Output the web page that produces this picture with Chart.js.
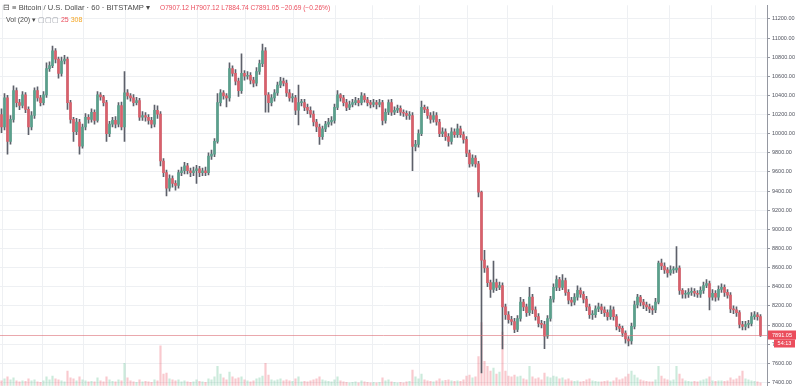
<!DOCTYPE html>
<html><head><meta charset="utf-8">
<script src="https://cdn.jsdelivr.net/npm/chart.js@4/dist/chart.umd.min.js"></script>
<style>
html,body{margin:0;padding:0;background:#fff;}
#wrap{position:relative;width:800px;height:391px;overflow:hidden;}
canvas{position:absolute;left:0;top:0;}
.hdr{position:absolute;font-family:"Liberation Sans",Arial,sans-serif;font-size:7px;white-space:nowrap;line-height:1;}
</style></head><body>
<div id="wrap"><canvas id="c" width="800" height="391"></canvas>
<div class="hdr" style="left:3px;top:4px;color:#4a4a4a;font-size:7.6px">⊟ ≡ Bitcoin / U.S. Dollar · 60 · BITSTAMP ▾</div>
<div class="hdr" style="left:160px;top:5px;color:#eb4d5c;font-size:6.6px">O7907.12 H7907.12 L7884.74 C7891.05 −20.69 (−0.26%)</div>
<div class="hdr" style="left:6px;top:16px;color:#4a4a4a">Vol (20) ▾ <span style="color:#9598a1">▢▢▢</span> <span style="color:#eb4d5c">25</span> <span style="color:#f5a623">308</span></div>
</div>
<script>
// 60-minute candles (compressed), BITSTAMP BTC/USD
const opens = [
10200,10070,10375,9920,10150,10450,10325,10295,10405,10255,
10070,10190,10450,10375,10325,10405,10680,10712,10865,10780,
10630,10760,10780,10325,10150,10020,10122,9870,10070,10172,
10150,10224,10140,10405,10385,10325,10000,10100,10140,10100,
10295,10070,10427,10395,10375,10325,10345,10172,10190,10172,
10140,10100,10245,10205,9715,9593,9430,9532,9481,9460,
9593,9613,9664,9613,9593,9613,9634,9593,9613,9593,
9766,9786,9919,10325,10427,10395,10375,10680,10630,10550,
10450,10630,10600,10610,10560,10529,10650,10732,10865,10405,
10325,10375,10427,10508,10550,10529,10427,10375,10375,10245,
10325,10325,10275,10245,10205,10122,10070,9970,10050,10100,
10122,10140,10275,10405,10375,10325,10275,10305,10325,10345,
10325,10395,10355,10325,10305,10325,10305,10325,10140,10224,
10325,10224,10245,10265,10224,10214,10190,10190,9867,9888,
10000,10275,10255,10190,10150,10190,10122,10000,10020,9970,
9919,10020,9990,10050,9990,9940,9797,9685,9745,9685,
9390,8678,8596,8444,8373,8444,8393,8413,8190,8108,
8057,8037,7955,8068,8240,8190,8129,8291,8159,8088,
8017,8006,7885,8068,8271,8393,8474,8393,8464,8342,
8261,8240,8291,8362,8322,8271,8190,8108,8108,8169,
8190,8159,8129,8088,8159,8088,7986,7966,7915,7854,
7834,7986,8210,8291,8240,8210,8190,8169,8159,8240,
8647,8617,8576,8545,8576,8576,8596,8362,8322,8322,
8342,8352,8332,8322,8362,8413,8434,8291,8332,8291,
8373,8393,8342,8312,8169,8159,8129,8006,7986,8006,
8017,8088,8108,8088
];
const highs = [
10260,10420,10400,10190,10500,10480,10360,10440,10430,10280,
10230,10480,10490,10400,10440,10740,10750,10915,10890,10800,
10800,10820,10800,10350,10170,10160,10150,10100,10210,10200,
10260,10250,10440,10430,10400,10350,10130,10170,10180,10325,
10330,10650,10460,10420,10410,10380,10370,10230,10220,10200,
10170,10300,10290,10230,9740,9620,9570,9560,9510,9620,
9650,9700,9690,9640,9650,9670,9660,9640,9650,9800,
9830,9950,10420,10460,10450,10420,10740,10710,10670,10580,
10834,10660,10650,10640,10590,10690,10770,10936,10900,10430,
10410,10460,10540,10590,10580,10560,10460,10420,10400,10508,
10360,10360,10310,10280,10240,10150,10100,10080,10130,10160,
10180,10310,10450,10420,10400,10360,10340,10360,10380,10370,
10430,10420,10380,10350,10360,10350,10360,10350,10260,10355,
10360,10280,10300,10290,10250,10240,10230,10220,9930,10040,
10340,10300,10280,10220,10230,10220,10150,10060,10050,10000,
10060,10050,10100,10080,10020,9970,9830,9780,9770,9710,
9400,8780,8620,8470,8668,8480,8450,8440,8220,8140,
8090,8070,8100,8290,8270,8220,8393,8320,8190,8120,
8050,8040,8100,8300,8430,8515,8500,8527,8490,8370,
8290,8330,8410,8390,8350,8300,8220,8150,8200,8230,
8220,8190,8160,8200,8190,8110,8010,7990,7940,7880,
8020,8250,8322,8310,8270,8240,8220,8200,8280,8668,
8690,8650,8600,8620,8610,8820,8620,8380,8360,8380,
8390,8380,8360,8400,8450,8474,8460,8370,8360,8410,
8430,8420,8370,8340,8200,8190,8150,8040,8040,8050,
8130,8140,8130,8110
];
const lows = [
10010,10040,9786,9890,10120,10280,10250,10270,10220,9990,
10040,10160,10340,10290,10300,10380,10650,10690,10740,10580,
10600,10730,10255,10110,9919,9990,9786,9850,10040,10110,
10120,10100,10120,10350,10290,9919,9970,10070,10060,10070,
10040,9919,10360,10340,10290,10300,10140,10140,10130,10100,
10060,10070,10160,9664,9550,9350,9400,9440,9410,9430,
9560,9580,9580,9550,9560,9480,9550,9560,9560,9570,
9730,9760,9900,10290,10360,10280,10340,10600,10510,10390,
10420,10560,10570,10520,10490,10500,10620,10700,10224,10224,
10290,10340,10400,10480,10500,10390,10340,10330,10200,10091,
10290,10240,10210,10170,10080,10020,9888,9940,10020,10070,
10090,10110,10250,10340,10290,10240,10250,10280,10300,10290,
10300,10330,10290,10270,10280,10260,10280,10091,10110,10200,
10190,10200,10220,10190,10180,10150,10150,9613,9820,9860,
9980,10220,10160,10110,10120,10090,9970,9970,9930,9870,
9890,9960,9960,9960,9900,9760,9650,9660,9650,9340,
7500,8550,8400,8290,8340,8360,8370,7750,8060,8020,
8000,7920,7930,8040,8150,8090,8100,8120,8050,7980,
7970,7752,7860,8040,8240,8360,8360,8370,8310,8220,
8200,8210,8260,8290,8230,8150,8070,8060,8080,8140,
8120,8090,8050,8060,8050,7950,7930,7880,7810,7783,
7800,7960,8180,8200,8170,8150,8130,8110,8130,8220,
8580,8540,8500,8520,8540,8550,8320,8280,8280,8290,
8310,8300,8290,8290,8330,8390,8159,8260,8250,8260,
8340,8300,8280,8130,8120,8090,7970,7950,7950,7970,
7990,8060,8050,7880
];
const closes = [
10070,10375,9920,10150,10450,10325,10295,10405,10255,10070,
10190,10450,10375,10325,10405,10680,10712,10865,10780,10630,
10760,10780,10325,10150,10020,10122,9870,10070,10172,10150,
10224,10140,10405,10385,10325,10000,10100,10140,10100,10295,
10070,10427,10395,10375,10325,10345,10172,10190,10172,10140,
10100,10245,10205,9715,9593,9430,9532,9481,9460,9593,
9613,9664,9613,9593,9613,9634,9593,9613,9593,9766,
9786,9919,10325,10427,10395,10375,10680,10630,10550,10450,
10630,10600,10610,10560,10529,10650,10732,10865,10405,10325,
10375,10427,10508,10550,10529,10427,10375,10375,10245,10325,
10325,10275,10245,10205,10122,10070,9970,10050,10100,10122,
10140,10275,10405,10375,10325,10275,10305,10325,10345,10325,
10395,10355,10325,10305,10325,10305,10325,10140,10224,10325,
10224,10245,10265,10224,10214,10190,10190,9867,9888,10000,
10275,10255,10190,10150,10190,10122,10000,10020,9970,9919,
10020,9990,10050,9990,9940,9797,9685,9745,9685,9390,
8678,8596,8444,8373,8444,8393,8413,8190,8108,8057,
8037,7955,8068,8240,8190,8129,8291,8159,8088,8017,
8006,7885,8068,8271,8393,8474,8393,8464,8342,8261,
8240,8291,8362,8322,8271,8190,8108,8108,8169,8190,
8159,8129,8088,8159,8088,7986,7966,7915,7854,7834,
7986,8210,8291,8240,8210,8190,8169,8159,8240,8647,
8617,8576,8545,8576,8576,8596,8362,8322,8322,8342,
8352,8332,8322,8362,8413,8434,8291,8332,8291,8373,
8393,8342,8312,8169,8159,8129,8006,7986,8006,8017,
8088,8108,8088,7891.05
];
const volumes = [
500,700,900,600,800,500,400,500,450,700,
500,600,400,350,500,900,600,1000,700,600,
500,400,1500,800,700,500,900,600,500,400,
450,400,800,500,400,900,600,450,400,600,
500,2300,800,500,400,350,600,400,450,400,
350,600,500,4100,1200,1300,700,600,500,600,
400,500,400,350,400,600,450,400,350,700,
600,900,2000,1200,800,600,1400,900,700,800,
900,600,500,400,500,700,800,1000,2300,1100,
600,500,600,700,500,600,500,450,700,900,
400,450,400,500,600,700,900,600,500,450,
400,600,900,500,400,350,300,350,400,300,
500,400,350,300,350,300,350,800,500,600,
400,350,300,350,300,400,450,1600,900,700,
1200,600,500,450,400,500,700,500,550,600,
500,450,500,450,600,1000,1100,800,900,3000,
6500,2500,2000,1500,1800,1200,1400,5500,1500,1000,
900,1100,900,1000,700,600,2000,900,700,800,
600,1300,900,800,1000,900,700,800,600,700,
500,450,500,400,450,600,700,500,450,400,
400,450,500,400,500,800,600,700,900,1200,
1500,1100,800,600,500,450,400,400,600,2000,
1000,700,600,500,600,2000,1200,700,500,450,
400,450,400,500,600,700,900,500,450,500,
500,450,500,800,600,700,1000,1500,700,600,
500,450,400,300
];
const priceTicks = [7400,7600,7800,8000,8200,8400,8600,8800,9000,9200,9400,9600,9800,10000,10200,10400,10600,10800,11000,11200];
const timeGrid = [0.2,13.8,27.2,41.2,65.2,81.2,97.2,111.2,123.8,139.5,155.2,168.8,183.8,208.8,222.8,236.8,251.2];
const countdownLabel = '54:13';

const UP = '#5aa08c', DN = '#d9606b';
const idx = closes.map((_, i) => i);
const isUp = idx.map(i => closes[i] >= opens[i]);

const priceLinePlugin = {
  id: 'priceLine',
  afterDraw(chart) {
    const ctx = chart.ctx, y = chart.scales.y, area = chart.chartArea;
    const last = closes[closes.length - 1];
    const py = Math.round(y.getPixelForValue(last)) + 0.5;
    ctx.save();
    ctx.strokeStyle = 'rgba(220,110,118,0.6)';
    ctx.lineWidth = 1;
    ctx.beginPath(); ctx.moveTo(area.left, py); ctx.lineTo(area.right, py); ctx.stroke();
    ctx.fillStyle = '#eb4d5c';
    ctx.fillRect(768, py - 5, 28, 9);
    ctx.fillRect(774, py + 4, 21, 8);
    ctx.fillStyle = '#fff';
    ctx.font = '5.5px "Liberation Sans", Arial, sans-serif';
    ctx.textBaseline = 'middle'; ctx.textAlign = 'center';
    ctx.fillText(last.toFixed(2), 782, py - 0.5);
    ctx.fillText(countdownLabel, 784.5, py + 8);
    ctx.restore();
  }
};

new Chart(document.getElementById('c'), {
  data: {
    datasets: [
      { type: 'bar', label: 'body', data: idx.map(i => ({ x: i, y: [opens[i], closes[i]] })),
        backgroundColor: idx.map(i => isUp[i] ? UP : DN), barThickness: 2, minBarLength: 1, grouped: false, yAxisID: 'y' },
      { type: 'bar', label: 'wick', data: idx.map(i => ({ x: i, y: [lows[i], highs[i]] })),
        backgroundColor: '#5d606a', barThickness: 1, grouped: false, yAxisID: 'y' },
      { type: 'bar', label: 'volume', data: idx.map(i => ({ x: i, y: volumes[i] })),
        backgroundColor: idx.map(i => isUp[i] ? 'rgba(83,185,135,0.3)' : 'rgba(235,77,92,0.3)'),
        barThickness: 1.5, grouped: false, yAxisID: 'yv' }
    ]
  },
  options: {
    responsive: false, animation: false, devicePixelRatio: 1,
    layout: { padding: 0 },
    plugins: { legend: { display: false }, tooltip: { enabled: false } },
    scales: {
      x: { type: 'linear', min: -0.5, max: 255.17, offset: false, bounds: 'ticks',
        afterBuildTicks: s => { s.ticks = timeGrid.map(v => ({ value: v })); },
        afterFit: s => { s.height = 0; },
        ticks: { display: false, autoSkip: false },
        grid: { color: '#eef0f3', drawTicks: false, offset: false },
        border: { display: false } },
      y: { type: 'linear', position: 'right', min: 7366, max: 11342,
        afterBuildTicks: s => { s.ticks = priceTicks.map(v => ({ value: v })); },
        afterFit: s => { s.width = 33; },
        ticks: { callback: v => Number(v).toFixed(2), color: '#50535e', padding: 2,
          font: { family: '"Liberation Sans", Arial, sans-serif', size: 5.5 } },
        grid: { color: '#eef0f3', tickColor: '#9598a1', tickLength: 3 },
        border: { color: '#9598a1' } },
      yv: { type: 'linear', display: false, min: 0, max: 39100 }
    }
  },
  plugins: [priceLinePlugin]
});
</script>
</body></html>
